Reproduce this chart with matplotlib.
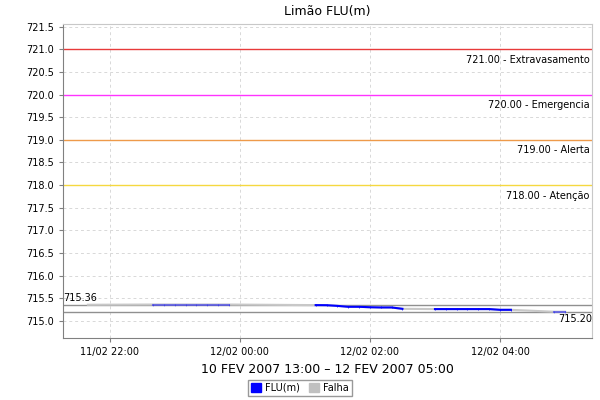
from datetime import datetime

import matplotlib
matplotlib.use("Agg")
import matplotlib.dates as mdates
import matplotlib.pyplot as plt
from matplotlib.patches import Patch
import numpy as np

# leituras de 10 em 10 minutos (NaN = falha)
times = ["2007-02-11 21:40", "2007-02-11 22:40", "2007-02-11 22:50", "2007-02-11 23:00",
         "2007-02-11 23:10", "2007-02-11 23:20", "2007-02-11 23:30", "2007-02-11 23:40",
         "2007-02-11 23:50", "2007-02-12 01:10", "2007-02-12 01:20", "2007-02-12 01:30",
         "2007-02-12 01:40", "2007-02-12 01:50", "2007-02-12 02:00", "2007-02-12 02:10",
         "2007-02-12 02:20", "2007-02-12 02:30", "2007-02-12 03:00", "2007-02-12 03:10",
         "2007-02-12 03:20", "2007-02-12 03:30", "2007-02-12 03:40", "2007-02-12 03:50",
         "2007-02-12 04:00", "2007-02-12 04:10", "2007-02-12 04:50", "2007-02-12 05:00"]
levels = [715.355, 715.36, 715.36, 715.36, 715.36, 715.36, 715.36, 715.36,
          715.36, 715.347, 715.345, 715.33, 715.31, 715.31, 715.30, 715.295,
          715.295, 715.265, 715.259, 715.259, 715.259, 715.259, 715.259, 715.259,
          715.243, 715.243, 715.20, 715.20]
valid = [0, 1, 1, 1, 1, 1, 1, 1, 1, 1, 1, 1, 1, 1, 1, 1, 1, 1,
         1, 1, 1, 1, 1, 1, 1, 1, 1, 1]
# trechos desenhados mais claros
faded = ["2007-02-11 22:40", "2007-02-11 23:50", "2007-02-12 04:50", "2007-02-12 05:00"]

limits = [721.0, 720.0, 719.0, 718.0]
limit_names = ["Extravasamento", "Emergencia", "Alerta", "Atenção"]
limit_colors = ["#e83a3a", "#ff33ff", "#ee9a4a", "#f5d840"]

max_level = 715.36
min_level = 715.20

x = mdates.date2num([datetime.strptime(t, "%Y-%m-%d %H:%M") for t in times])
y = np.array(levels)
ok = np.array(valid) == 1
fx = mdates.date2num([datetime.strptime(t, "%Y-%m-%d %H:%M") for t in faded])

fig = plt.figure(figsize=(6, 4), dpi=100)
ax = fig.add_axes([0.105, 0.155, 0.882, 0.786])

ax.grid(True, color="#d8d8d8", linestyle=(0, (3, 3)), linewidth=0.7)
ax.set_axisbelow(True)

for v, name, c in zip(limits, limit_names, limit_colors):
    ax.axhline(v, color=c, linewidth=1.0)
    ax.text(0.995, v - 0.12, "%.2f - %s" % (v, name), transform=ax.get_yaxis_transform(),
            ha="right", va="top", fontsize=7, color="black")

ax.axhline(max_level, color="#909090", linewidth=1.0)
ax.axhline(min_level, color="#909090", linewidth=1.0)
ax.text(0.0, max_level + 0.04, "%.2f" % max_level, transform=ax.get_yaxis_transform(),
        ha="left", va="bottom", fontsize=7)
ax.text(1.0, min_level - 0.05, "%.2f" % min_level, transform=ax.get_yaxis_transform(),
        ha="right", va="top", fontsize=7)

# falha: linha continua cinza
ax.plot(x, y, color="#c8c8c8", linewidth=1.5, zorder=3)

# leituras validas em azul, quebrando nos buracos
gap = np.diff(x) > 15 / 1440.0
seg_start = 0
for i in range(1, len(x) + 1):
    if i == len(x) or gap[i - 1]:
        sx = x[seg_start:i]
        sy = y[seg_start:i]
        m = ok[seg_start:i]
        light = np.any(np.isin(np.round(sx, 5), np.round(fx, 5)))
        ax.plot(sx[m], sy[m], color="#0000ff", alpha=0.45 if light else 1.0,
                linewidth=1.5, marker="|", markersize=2, markeredgewidth=0.5, zorder=4)
        seg_start = i

ax.set_ylim(714.62, 721.57)
ax.set_yticks(np.arange(715.0, 721.51, 0.5))
ax.yaxis.set_major_formatter(matplotlib.ticker.FormatStrFormatter("%.1f"))
ax.set_xlim(mdates.date2num(datetime(2007, 2, 11, 21, 17)),
            mdates.date2num(datetime(2007, 2, 12, 5, 25)))
ax.set_xticks(mdates.date2num([datetime(2007, 2, 11, 22), datetime(2007, 2, 12, 0),
                               datetime(2007, 2, 12, 2), datetime(2007, 2, 12, 4)]))
ax.xaxis.set_major_formatter(mdates.DateFormatter("%d/%m %H:%M"))
ax.tick_params(labelsize=7, length=3, color="#808080")

for s in ["top", "right"]:
    ax.spines[s].set_color("#c8c8c8")
for s in ["left", "bottom"]:
    ax.spines[s].set_color("#808080")

ax.set_title("Limão FLU(m)", fontsize=9, pad=6)
ax.set_xlabel("10 FEV 2007 13:00 – 12 FEV 2007 05:00", fontsize=9, labelpad=4)

handles = [Patch(facecolor="#0000ff", edgecolor="#0000ff"),
           Patch(facecolor="#c0c0c0", edgecolor="#c0c0c0")]
fig.legend(handles, ["FLU(m)", "Falha"], loc="center", bbox_to_anchor=(0.5, 0.03),
           ncol=2, fontsize=7, frameon=True, fancybox=False, edgecolor="#808080",
           handlelength=1.0, handleheight=1.0, handletextpad=0.4, columnspacing=1.0,
           borderpad=0.3)

fig.savefig("out.png", dpi=100)
